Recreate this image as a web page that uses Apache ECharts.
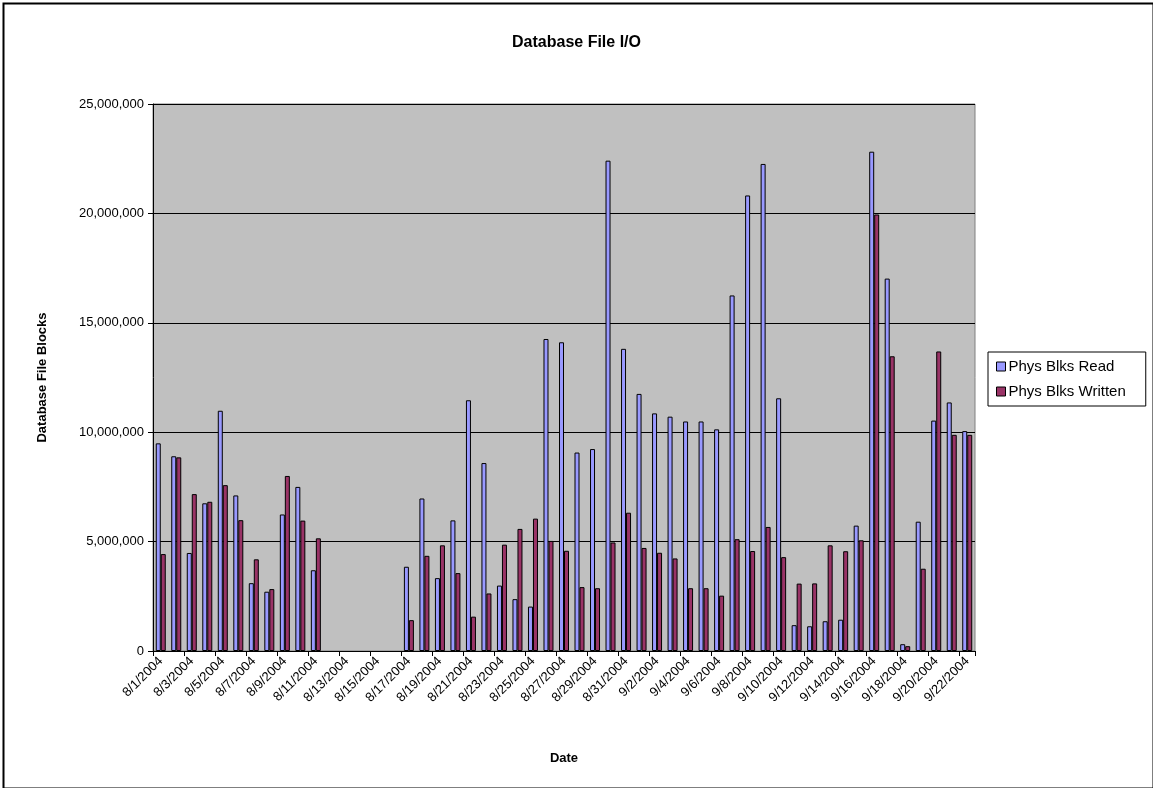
<!DOCTYPE html>
<html>
<head>
<meta charset="utf-8">
<title>Database File I/O</title>
<script src="https://cdn.jsdelivr.net/npm/echarts@6/dist/echarts.min.js"></script>
<style>
  html, body { margin: 0; padding: 0; background: #fff; }
  #chart { width: 1153px; height: 788px; }
</style>
</head>
<body>
<div id="chart"></div>
<script>
// one category per day, 8/1/2004 .. 9/22/2004
const dates = [
  '8/1/2004', '8/2/2004', '8/3/2004', '8/4/2004', '8/5/2004', '8/6/2004', '8/7/2004',
  '8/8/2004', '8/9/2004', '8/10/2004', '8/11/2004', '8/12/2004', '8/13/2004', '8/14/2004',
  '8/15/2004', '8/16/2004', '8/17/2004', '8/18/2004', '8/19/2004', '8/20/2004', '8/21/2004',
  '8/22/2004', '8/23/2004', '8/24/2004', '8/25/2004', '8/26/2004', '8/27/2004', '8/28/2004',
  '8/29/2004', '8/30/2004', '8/31/2004', '9/1/2004', '9/2/2004', '9/3/2004', '9/4/2004',
  '9/5/2004', '9/6/2004', '9/7/2004', '9/8/2004', '9/9/2004', '9/10/2004', '9/11/2004',
  '9/12/2004', '9/13/2004', '9/14/2004', '9/15/2004', '9/16/2004', '9/17/2004', '9/18/2004',
  '9/19/2004', '9/20/2004', '9/21/2004', '9/22/2004'
];

// null = no data that day
const blksRead = [
  9490000, 8900000, 4480000, 6750000, 10980000, 7110000, 3100000,
  2710000, 6240000, 7500000, 3690000, null, null, null,
  null, null, 3850000, 6970000, 3330000, 5970000, 11460000,
  8590000, 2990000, 2370000, 2030000, 14260000, 14110000, 9070000,
  9230000, 22410000, 13810000, 11750000, 10860000, 10710000, 10490000,
  10490000, 10130000, 16250000, 20820000, 22260000, 11550000, 1180000,
  1130000, 1360000, 1430000, 5730000, 22820000, 17020000, 310000,
  5910000, 10530000, 11360000, 10050000
];

const blksWritten = [
  4430000, 8850000, 7170000, 6820000, 7580000, 5980000, 4190000,
  2830000, 8000000, 5960000, 5150000, null, null, null,
  null, null, 1410000, 4350000, 4830000, 3560000, 1570000,
  2630000, 4860000, 5580000, 6050000, 5030000, 4580000, 2920000,
  2870000, 4960000, 6320000, 4710000, 4490000, 4230000, 2870000,
  2870000, 2530000, 5110000, 4570000, 5670000, 4290000, 3080000,
  3090000, 4830000, 4560000, 5060000, 19950000, 13470000, 220000,
  3760000, 13690000, 9880000, 9880000
];

const yTicks = [0, 5000000, 10000000, 15000000, 20000000, 25000000];

const chart = echarts.init(document.getElementById('chart'));

const labelFont = 'Liberation Sans, Arial, sans-serif';

const option = {
  animation: false,
  backgroundColor: '#ffffff',
  textStyle: { fontFamily: labelFont, color: '#000' },
  title: {
    text: 'Database File I/O',
    left: 'center',
    top: 30,
    textStyle: { fontFamily: labelFont, fontSize: 16, fontWeight: 'bold', color: '#000' },
  },
  legend: {
    orient: 'vertical',
    left: 988,
    top: 352,
    padding: [7, 20, 7, 8],
    itemGap: 10,
    itemWidth: 9,
    itemHeight: 9,
    borderColor: '#000',
    borderWidth: 1,
    backgroundColor: '#fff',
    textStyle: { fontFamily: labelFont, fontSize: 15, color: '#000', padding: [0, 0, 0, -2] },
    itemStyle: { borderColor: '#000', borderWidth: 1 },
    data: [
      { name: 'Phys Blks Read', icon: 'rect' },
      { name: 'Phys Blks Written', icon: 'rect' },
    ],
  },
  grid: {
    left: 153,
    right: 178,
    top: 104,
    bottom: 137,
    show: true,
    backgroundColor: '#c0c0c0',
    borderColor: '#808080',
    borderWidth: 1,
  },
  xAxis: {
    type: 'category',
    data: dates,
    boundaryGap: true,
    name: 'Date',
    nameLocation: 'middle',
    nameGap: 101,
    nameTextStyle: { fontFamily: labelFont, fontSize: 13, fontWeight: 'bold', color: '#000' },
    axisLine: { lineStyle: { color: '#000', width: 1 } },
    axisTick: { show: true, interval: 1, alignWithLabel: false, length: 5, lineStyle: { color: '#000' } },
    axisLabel: {
      interval: 1,
      rotate: 45,
      margin: 8,
      fontFamily: labelFont,
      fontSize: 13,
      color: '#000',
    },
    splitLine: { show: false },
  },
  yAxis: {
    type: 'value',
    min: yTicks[0],
    max: yTicks[yTicks.length - 1],
    interval: yTicks[1] - yTicks[0],
    name: 'Database File Blocks',
    nameLocation: 'middle',
    nameGap: 104,
    nameTextStyle: { fontFamily: labelFont, fontSize: 13, fontWeight: 'bold', color: '#000' },
    axisLine: { show: true, lineStyle: { color: '#000', width: 1 } },
    axisTick: { show: true, length: 5, lineStyle: { color: '#000' } },
    axisLabel: {
      margin: 9,
      fontFamily: labelFont,
      fontSize: 13,
      color: '#000',
      formatter: (v) => Number(v).toLocaleString('en-US'),
    },
    splitLine: { show: true, lineStyle: { color: '#000', width: 1 } },
  },
  series: [
    {
      name: 'Phys Blks Read',
      type: 'bar',
      data: blksRead,
      barWidth: 5,
      barGap: '0%',
      itemStyle: { color: '#9999ff', borderColor: '#000', borderWidth: 1 },
    },
    {
      name: 'Phys Blks Written',
      type: 'bar',
      data: blksWritten,
      barWidth: 5,
      barGap: '0%',
      itemStyle: { color: '#993366', borderColor: '#000', borderWidth: 1 },
    },
  ],
  graphic: [
    {
      type: 'rect',
      left: 1,
      top: 1,
      shape: { width: 1150, height: 785 },
      style: { fill: 'none', stroke: '#000', lineWidth: 2 },
      silent: true,
      z: 100,
    },
  ],
};

chart.setOption(option);

window.addEventListener('resize', () => chart.resize());
</script>
</body>
</html>
